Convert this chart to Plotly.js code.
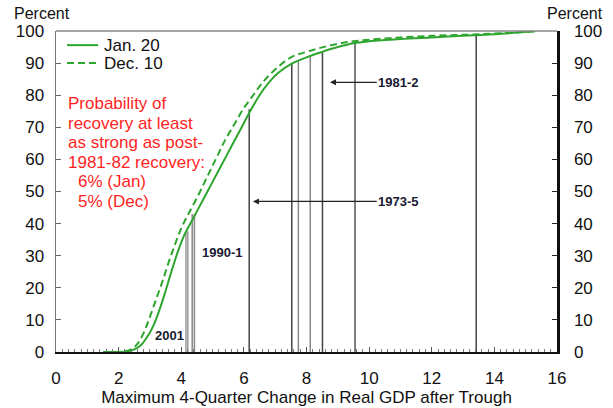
<!DOCTYPE html>
<html><head><meta charset="utf-8">
<script src="https://cdn.plot.ly/plotly-3.0.1.min.js"></script>
<style>html,body{margin:0;padding:0;background:#fff}#chart{width:613px;height:408px}</style>
</head><body><div id="chart"></div>
<script>
// Jan. 20 distribution (cumulative, percent)
const janX = [1.5, 2.0, 2.3, 2.5, 2.7, 2.9, 3.1, 3.3, 3.5, 3.7, 3.9, 4.1, 4.4, 4.7, 5.0, 5.3, 5.6, 5.9, 6.2, 6.5, 6.8, 7.1, 7.5, 8.0, 8.5, 9.0, 9.5, 10.0, 11.0, 12.0, 13.0, 14.0, 15.3];
const janY = [0, 0, 0.2, 0.8, 2, 4.5, 8, 13, 19, 25.5, 31.5, 36.5, 42, 47.5, 53, 58.5, 64, 69.5, 75, 80, 84, 87, 89.7, 91.8, 93.5, 95, 96.2, 96.8, 97.5, 98.0, 98.5, 99.0, 99.9];
// Dec. 10 distribution
const decX = [1.5, 2.0, 2.2, 2.4, 2.6, 2.8, 3.0, 3.2, 3.4, 3.6, 3.8, 4.0, 4.2, 4.5, 4.8, 5.1, 5.4, 5.7, 6.0, 6.3, 6.6, 7.0, 7.5, 8.0, 8.5, 9.0, 9.5, 10.0, 11.0, 12.0, 13.0, 14.0, 15.3];
const decY = [0, 0, 0.2, 0.8, 2.5, 6, 11, 16.5, 22, 28, 33.5, 38.5, 42.5, 48, 54, 60, 66, 71, 76, 80, 84, 88, 91.8, 93.5, 94.9, 96, 96.8, 97.3, 98, 98.5, 98.8, 99.2, 99.9];
// Past recoveries (vertical markers): max 4-quarter GDP change and height
const recX = [4.15, 4.21, 4.35, 4.42, 6.17, 7.53, 7.74, 8.12, 8.51, 9.55, 13.42];
const recY = [37.6, 37.6, 43, 43, 75.6, 90, 91, 92.3, 93.5, 96.5, 98.7];
const recColor = ['#999', '#999', '#888', '#888', '#444', '#444', '#888', '#888', '#444', '#555', '#444'];
const xTicks = [0, 2, 4, 6, 8, 10, 12, 14, 16];
const yTicks = [0, 10, 20, 30, 40, 50, 60, 70, 80, 90, 100];
const noteLines = ['Probability of', 'recovery at least', 'as strong as post-', '1981-82 recovery:', '6% (Jan)', '5% (Dec)'];
const legendNames = ['Jan. 20', 'Dec. 10'];

const green = '#2ea52e';
const traces = [];
recX.forEach((x, i) => {
  traces.push({x: [x, x], y: [0, recY[i]], mode: 'lines', line: {color: recColor[i], width: 1.5}, showlegend: false, hoverinfo: 'skip'});
});
traces.push({x: janX, y: janY, name: legendNames[0], mode: 'lines', showlegend: false, line: {color: green, width: 2, shape: 'spline', smoothing: 1}});
traces.push({x: decX, y: decY, name: legendNames[1], mode: 'lines', showlegend: false, line: {color: green, width: 2, dash: '7px,4px', shape: 'spline', smoothing: 1}});
traces.push({x: [0], y: [0], yaxis: 'y2', mode: 'markers', marker: {opacity: 0}, showlegend: false, hoverinfo: 'skip'});

const F = 'Liberation Sans, Arial, sans-serif';
const noteY = [0.7726, 0.7103, 0.6511, 0.5919, 0.5296, 0.4673];
const noteX = [0.02, 0.02, 0.02, 0.02, 0.04, 0.04];
const annotations = [
  {xref: 'paper', yref: 'paper', x: -0.0878, y: 1.053, xanchor: 'left', yanchor: 'middle', text: 'Percent', showarrow: false, font: {size: 16}},
  {xref: 'paper', yref: 'paper', x: 1.0958, y: 1.053, xanchor: 'right', yanchor: 'middle', text: 'Percent', showarrow: false, font: {size: 16}},
  {xref: 'x', yref: 'y', x: 8.75, y: 84, ax: 10.93, ay: 84, axref: 'x', ayref: 'y', text: '<b>1981-2</b>',
    showarrow: true, arrowhead: 2, arrowsize: 1, arrowwidth: 1.2, arrowcolor: '#222', font: {size: 13, color: '#1a1a33'}},
  {xref: 'x', yref: 'y', x: 6.29, y: 46.9, ax: 10.93, ay: 46.9, axref: 'x', ayref: 'y', text: '<b>1973-5</b>',
    showarrow: true, arrowhead: 2, arrowsize: 1, arrowwidth: 1.2, arrowcolor: '#222', font: {size: 13, color: '#1a1a33'}},
  {xref: 'x', yref: 'y', x: 5.3, y: 31, text: '<b>1990-1</b>', showarrow: false, font: {size: 13, color: '#1a1a33'}},
  {xref: 'x', yref: 'y', x: 3.64, y: 5, text: '<b>2001</b>', showarrow: false, font: {size: 13, color: '#1a1a33'}}
];
noteLines.forEach((t, i) => annotations.push({xref: 'paper', yref: 'paper', x: noteX[i], y: noteY[i], xanchor: 'left', yanchor: 'middle',
  text: t, showarrow: false, font: {size: 17, color: '#ff1f1f'}}));
legendNames.forEach((t, i) => annotations.push({xref: 'paper', yref: 'paper', x: 0.092, y: [0.956, 0.9][i], xanchor: 'left', yanchor: 'middle',
  text: t, showarrow: false, font: {size: 17, color: '#111'}}));

const layout = {
  width: 613, height: 408,
  margin: {l: 56, r: 56, t: 31, b: 56},
  paper_bgcolor: '#fff', plot_bgcolor: '#fff',
  font: {family: F, size: 17, color: '#111'},
  showlegend: false,
  xaxis: {range: [0, 16], tickvals: xTicks, ticks: 'inside', ticklen: 5, tickcolor: '#555',
    minor: {dtick: 0.2, ticks: 'inside', ticklen: 3, tickcolor: '#777'},
    showline: true, linecolor: '#111', linewidth: 2, showgrid: false, zeroline: false, ticklabelstandoff: 10,
    title: {text: 'Maximum 4-Quarter Change in Real GDP after Trough', font: {size: 17}, standoff: 2},
    tickfont: {size: 17}},
  yaxis: {range: [0, 100], tickvals: yTicks, ticks: 'inside', ticklen: 5, tickcolor: '#666', ticklabelstandoff: 7,
    showline: true, linecolor: '#777', linewidth: 1.5, showgrid: false, zeroline: false, tickfont: {size: 17}},
  yaxis2: {range: [0, 100], tickvals: yTicks, overlaying: 'y', side: 'right', ticks: 'inside', ticklen: 5, tickcolor: '#222', ticklabelstandoff: 11,
    showline: true, linecolor: '#111', linewidth: 2.5, showgrid: false, zeroline: false, tickfont: {size: 17}},
  shapes: [
    {type: 'line', xref: 'paper', yref: 'paper', x0: 0, x1: 1, y0: 1, y1: 1, line: {color: '#888', width: 1.5}},
    {type: 'line', xref: 'paper', yref: 'paper', x0: 0.022, x1: 0.084, y0: 0.956, y1: 0.956, line: {color: green, width: 2}},
    {type: 'line', xref: 'paper', yref: 'paper', x0: 0.022, x1: 0.084, y0: 0.9, y1: 0.9, line: {color: green, width: 2, dash: '7px,4px'}}
  ],
  annotations: annotations
};
Plotly.newPlot('chart', traces, layout, {displayModeBar: false, staticPlot: true});
</script></body></html>
